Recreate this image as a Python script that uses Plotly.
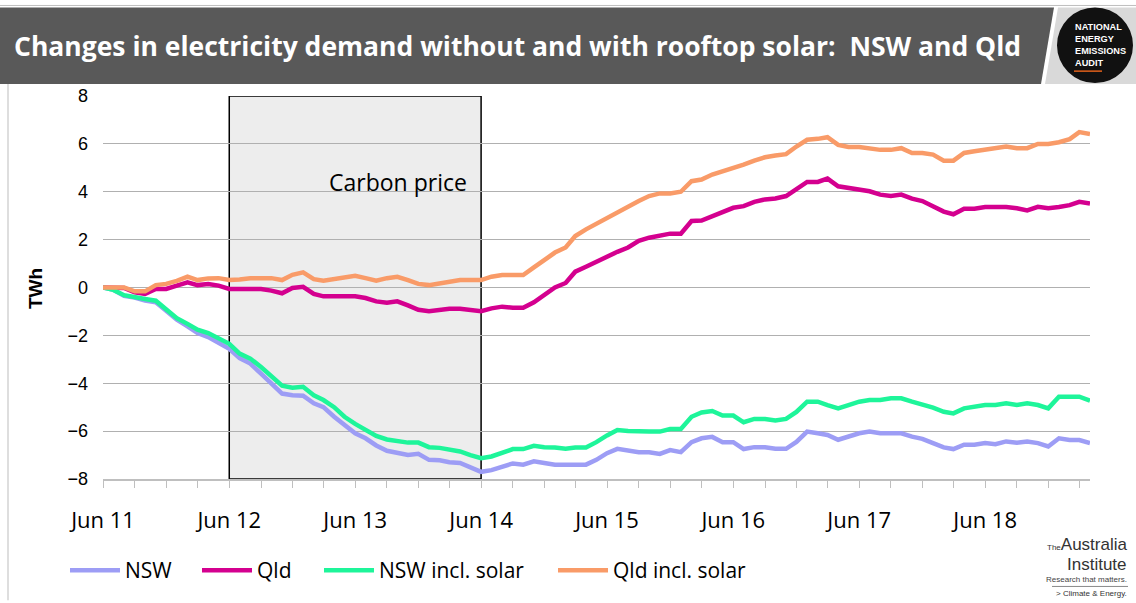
import pandas as pd
import plotly.graph_objects as go

months = pd.date_range("2011-06-01", periods=95, freq="MS")

nsw = [0, -0.1, -0.35, -0.42, -0.55, -0.62, -0.97, -1.34, -1.62, -1.9,
       -2.07, -2.3, -2.56, -2.95, -3.18, -3.6, -4.0, -4.43, -4.5, -4.52,
       -4.84, -5.0, -5.4, -5.74, -6.09, -6.3, -6.6, -6.82, -6.89, -7.0,
       -6.95, -7.2, -7.22, -7.3, -7.33, -7.5, -7.7, -7.63, -7.5, -7.35,
       -7.4, -7.26, -7.33, -7.4, -7.4, -7.4, -7.4, -7.2, -6.92, -6.74,
       -6.81, -6.88, -6.88, -6.95, -6.79, -6.88, -6.46, -6.3, -6.24, -6.46,
       -6.46, -6.75, -6.67, -6.67, -6.74, -6.74, -6.45, -6.02, -6.09, -6.16,
       -6.36, -6.23, -6.09, -6.02, -6.09, -6.09, -6.09, -6.23, -6.32, -6.5,
       -6.68, -6.75, -6.57, -6.57, -6.5, -6.55, -6.43, -6.48, -6.43, -6.5,
       -6.64, -6.3, -6.37, -6.37, -6.5]

qld = [0, 0, -0.02, -0.2, -0.27, -0.06, -0.06, 0.08, 0.22, 0.1,
       0.15, 0.08, -0.06, -0.06, -0.06, -0.06, -0.13, -0.24, -0.02, 0.03,
       -0.27, -0.37, -0.37, -0.37, -0.37, -0.44, -0.58, -0.64, -0.58, -0.75,
       -0.93, -0.99, -0.93, -0.89, -0.89, -0.93, -0.99, -0.87, -0.8, -0.85,
       -0.85, -0.62, -0.31, 0, 0.19, 0.66, 0.87, 1.07, 1.32, 1.49,
       1.67, 1.95, 2.08, 2.18, 2.25, 2.25, 2.78, 2.8, 2.98, 3.15,
       3.33, 3.4, 3.58, 3.68, 3.72, 3.82, 4.1, 4.41, 4.41, 4.55,
       4.23, 4.16, 4.12, 4.02, 3.88, 3.82, 3.88, 3.71, 3.61, 3.4,
       3.17, 3.06, 3.29, 3.29, 3.36, 3.36, 3.36, 3.31, 3.22, 3.37,
       3.31, 3.36, 3.44, 3.58, 3.51]

nsw_solar = [0, -0.1, -0.32, -0.42, -0.48, -0.55, -0.9, -1.28, -1.52, -1.76,
             -1.9, -2.1, -2.35, -2.76, -2.97, -3.32, -3.69, -4.1, -4.19, -4.15,
             -4.5, -4.7, -5.0, -5.4, -5.7, -5.95, -6.2, -6.35, -6.4, -6.48,
             -6.48, -6.67, -6.7, -6.78, -6.85, -7.0, -7.13, -7.06, -6.88, -6.75,
             -6.75, -6.61, -6.67, -6.68, -6.74, -6.68, -6.68, -6.46, -6.18, -5.95,
             -5.99, -6.02, -6.02, -6.02, -5.91, -5.91, -5.4, -5.22, -5.16, -5.35,
             -5.35, -5.63, -5.49, -5.49, -5.56, -5.49, -5.2, -4.77, -4.77, -4.91,
             -5.05, -4.91, -4.77, -4.7, -4.7, -4.63, -4.63, -4.77, -4.87, -5.02,
             -5.19, -5.26, -5.05, -4.98, -4.91, -4.91, -4.84, -4.91, -4.84, -4.91,
             -5.05, -4.56, -4.56, -4.56, -4.73]

qld_solar = [0, 0, 0, -0.16, -0.16, 0.1, 0.15, 0.28, 0.45, 0.31,
             0.38, 0.39, 0.31, 0.33, 0.39, 0.39, 0.39, 0.31, 0.53, 0.63,
             0.35, 0.28, 0.35, 0.42, 0.49, 0.39, 0.28, 0.39, 0.45, 0.31,
             0.15, 0.1, 0.17, 0.24, 0.31, 0.31, 0.31, 0.45, 0.52, 0.52,
             0.52, 0.84, 1.14, 1.46, 1.67, 2.15, 2.43, 2.67, 2.92, 3.12,
             3.36, 3.61, 3.82, 3.93, 3.93, 4.0, 4.44, 4.51, 4.72, 4.85,
             4.99, 5.13, 5.3, 5.44, 5.51, 5.57, 5.89, 6.17, 6.21, 6.28,
             5.96, 5.87, 5.87, 5.82, 5.75, 5.75, 5.82, 5.62, 5.62, 5.55,
             5.3, 5.3, 5.62, 5.69, 5.75, 5.82, 5.89, 5.82, 5.82, 6.0,
             6.0, 6.07, 6.2, 6.49, 6.41]

series_names = ["NSW", "Qld", "NSW incl. solar", "Qld incl. solar"]
series_values = [nsw, qld, nsw_solar, qld_solar]
series_colors = ["#9d9df5", "#d4008f", "#1ef59a", "#f99b68"]

carbon_start = "2012-06-01"
carbon_end = "2014-06-01"

# layout geometry (pixels)
W_PX, H_PX = 1136, 603
L, R, T, B = 103, 1090, 96, 481


def px(x):
    return (x - L) / (R - L)


def py(y):
    return (B - y) / (B - T)


legend_text_x = [124, 256, 378, 612]
legend_ids = ["legend", "legend2", "legend3", "legend4"]

fig = go.Figure()
for name, vals, col, lid in zip(series_names, series_values, series_colors, legend_ids):
    fig.add_trace(go.Scatter(x=months, y=vals, name=name, mode="lines",
                             line=dict(color=col, width=4.5), legend=lid))

shapes = []
# carbon price box
shapes.append(dict(type="rect", xref="x", yref="y", x0=carbon_start, x1=carbon_end,
                   y0=-8, y1=8, fillcolor="#ededed", line=dict(color="black", width=1.5),
                   layer="below"))
# title bar
shapes.append(dict(type="path", xref="paper", yref="paper",
                   path=f"M {px(0)},{py(7)} L {px(1054)},{py(7)} L {px(1041)},{py(84)} L {px(0)},{py(84)} Z",
                   fillcolor="#595959", line=dict(width=0), layer="above"))
shapes.append(dict(type="path", xref="paper", yref="paper",
                   path=f"M {px(1058)},{py(7)} L {px(1136)},{py(7)} L {px(1136)},{py(84)} L {px(1045)},{py(84)} Z",
                   fillcolor="#d9d9d9", line=dict(width=0), layer="above"))
shapes.append(dict(type="line", xref="paper", yref="paper",
                   x0=px(0), x1=px(1136), y0=py(5), y1=py(5),
                   line=dict(color="#bfbfbf", width=1)))
# logo circle
shapes.append(dict(type="circle", xref="paper", yref="paper",
                   x0=px(1057), x1=px(1133), y0=py(83), y1=py(7),
                   fillcolor="#111111", line=dict(width=0), layer="above"))
shapes.append(dict(type="line", xref="paper", yref="paper",
                   x0=px(1074), x1=px(1102), y0=py(71), y1=py(71),
                   line=dict(color="#e0601b", width=1.5)))
# frame
shapes.append(dict(type="line", xref="paper", yref="paper",
                   x0=px(8), x1=px(8), y0=py(84), y1=py(603),
                   line=dict(color="#c8c8c8", width=1.2)))
# Australia Institute logo divider
shapes.append(dict(type="line", xref="paper", yref="paper",
                   x0=px(1052), x1=px(1128), y0=py(589), y1=py(589),
                   line=dict(color="#888888", width=1)))

annotations = [
    dict(text="Changes in electricity demand without and with rooftop solar:  NSW and Qld",
         xref="paper", yref="paper", x=px(12), y=py(46), xanchor="left", yanchor="middle",
         showarrow=False, font=dict(family="Open Sans", size=26.5, color="white", weight="bold")),
    dict(text="NATIONAL<br>ENERGY<br>EMISSIONS<br>AUDIT", xref="paper", yref="paper",
         x=px(1073), y=py(45), xanchor="left", yanchor="middle", align="left",
         showarrow=False, font=dict(family="Liberation Sans", size=9.2, color="white", weight="bold")),
    dict(text="Carbon price", xref="x", yref="y", x=carbon_end, y=4.4, xanchor="right",
         yanchor="middle", xshift=-12, showarrow=False,
         font=dict(family="Open Sans", size=23, color="black")),
    dict(text="<b>TWh</b>", xref="paper", yref="paper", x=px(36), y=py(290), textangle=-90,
         xanchor="center", yanchor="middle", showarrow=False,
         font=dict(family="Liberation Sans", size=19, color="black")),
    dict(text="<span style='font-size:8px'>The</span>Australia", xref="paper", yref="paper",
         x=px(1129), y=py(547), xanchor="right", yanchor="middle", showarrow=False,
         font=dict(family="Liberation Sans", size=17, color="#333333")),
    dict(text="Institute", xref="paper", yref="paper",
         x=px(1129), y=py(567), xanchor="right", yanchor="middle", showarrow=False,
         font=dict(family="Liberation Sans", size=17, color="#333333")),
    dict(text="Research that matters.", xref="paper", yref="paper", x=px(1129), y=py(582),
         xanchor="right", yanchor="middle", showarrow=False,
         font=dict(family="Liberation Sans", size=8, color="#444444")),
    dict(text="> Climate &amp; Energy.", xref="paper", yref="paper", x=px(1129), y=py(596),
         xanchor="right", yanchor="middle", showarrow=False,
         font=dict(family="Liberation Sans", size=8, color="#333333")),
]

legend_style = dict(orientation="h", xanchor="left", yanchor="middle",
                    font=dict(family="Open Sans", size=21, color="black"),
                    bgcolor="rgba(0,0,0,0)", itemwidth=50)
legends = {}
for lid, tx in zip(legend_ids, legend_text_x):
    legends[lid] = dict(legend_style, x=px(tx - 59), y=py(573))

fig.update_layout(
    width=W_PX, height=H_PX,
    margin=dict(l=L, r=W_PX - R, t=T, b=H_PX - B, pad=0),
    paper_bgcolor="white", plot_bgcolor="white",
    shapes=shapes, annotations=annotations,
    showlegend=True,
    xaxis=dict(type="date", range=["2011-06-01", "2019-04-01"],
               showgrid=False, zeroline=False,
               showline=True, linecolor="#bfbfbf", linewidth=1.5,
               tick0="2011-06-01", dtick="M12", tickformat="%b %y",
               ticks="outside", ticklen=7, tickcolor="#bfbfbf", tickwidth=1.2,
               ticklabelstandoff=14,
               minor=dict(dtick="M3", tick0="2011-06-01", ticks="outside", ticklen=7,
                          tickcolor="#bfbfbf", tickwidth=1.2, showgrid=False),
               tickfont=dict(family="Open Sans", size=22, color="black")),
    yaxis=dict(range=[-8, 8], dtick=2, tick0=0, showgrid=True, gridcolor="#b0b0b0",
               gridwidth=1, zeroline=False, showline=False,
               ticklabelstandoff=14,
               tickfont=dict(family="Liberation Sans", size=18, color="black")),
    **legends,
)

fig.write_html("out.html", config={"displayModeBar": False},
               post_script="document.body.style.margin='0';")
